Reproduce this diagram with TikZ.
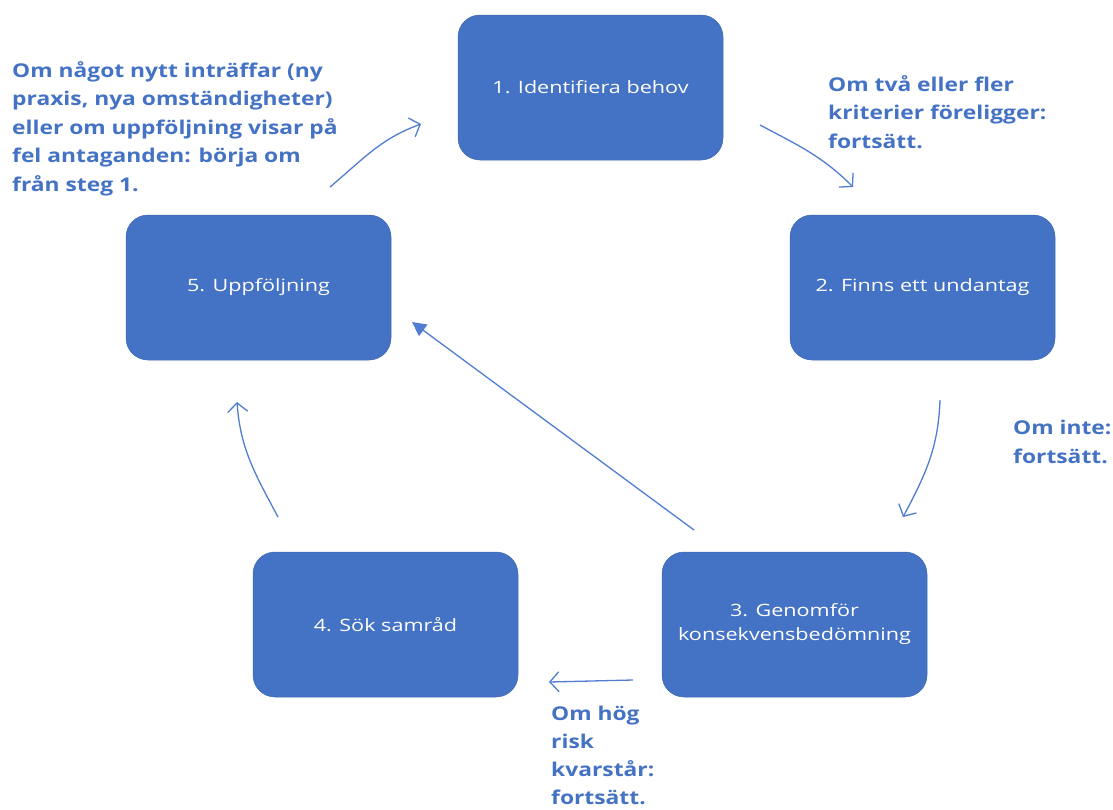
\documentclass[tikz,border=0pt]{standalone}
\usepackage{fontspec}
\setmainfont{Open Sans}
\newfontfamily\notefont{Open Sans}[FakeStretch=1.2]
\newfontfamily\phasefont{Open Sans}[FakeStretch=1.27]
\usepackage{xcolor}
\definecolor{office}{RGB}{68,114,196}
\definecolor{arrowblue}{RGB}{80,125,210}
\usepackage{tikz}
\usetikzlibrary{arrows.meta, positioning}

\begin{document}
\begin{tikzpicture}[
  x=1pt, y=-1pt,
  phase/.style = {rectangle, rounded corners=22pt, fill=office, draw=office!90!black,
                  line width=0.5pt, minimum width=265pt, minimum height=145pt,
                  text=white, align=center, font=\phasefont\fontsize{17}{24}\selectfont},
  note/.style  = {anchor=north west, align=left, text=office, inner sep=0pt,
                  font=\notefont\fontsize{19}{28.5}\selectfont\bfseries},
  arr/.style   = {-{Straight Barb[length=9pt, width=20pt]}, line width=1.3pt, arrowblue},
  back/.style  = {-{Triangle[length=14pt, width=14pt]}, line width=1.3pt, arrowblue},
]
\useasboundingbox (0,0) rectangle (1113,809);
\node[phase] (p1) at (590.5,87.5)  {1. Identifiera behov};
\node[phase] (p2) at (922.5,287.5) {2. Finns ett undantag};
\node[phase] (p3) at (794.5,624.5) {3. Genomför\\konsekvensbedömning};
\node[phase] (p4) at (385.5,624.5) {4. Sök samråd};
\node[phase] (p5) at (258.5,287.5) {5. Uppföljning};
\node[note] (n5) at (12,61)   {Om något nytt inträffar (ny\\praxis, nya omständigheter)\\eller om uppföljning visar på\\fel antaganden: börja om\\från steg 1.};
\node[note] (n1) at (828,75)  {Om två eller fler\\kriterier föreligger:\\fortsätt.};
\node[note] (n2) at (1013,420) {Om inte:\\fortsätt.};
\node[note, font=\notefont\fontsize{19}{28}\selectfont\bfseries] (n3) at (551,706) {Om hög\\risk\\kvarstår:\\fortsätt.};
\coordinate (a1s) at (760,125); \coordinate (a1e) at (853,187);
\coordinate (a2s) at (940,400); \coordinate (a2e) at (903,517);
\coordinate (a3s) at (633,680); \coordinate (a3e) at (549,682);
\coordinate (a4s) at (278,517); \coordinate (a4e) at (237,402);
\coordinate (a5s) at (330,187); \coordinate (a5e) at (421,124);
\coordinate (bs) at (694,530);  \coordinate (be) at (412,322);
\draw[arr] (a1s) to[out=-28, in=135] (a1e);
\draw[arr] (a2s) to[out=-92, in=62] (a2e);
\draw[arr] (a3s) -- (a3e);
\draw[arr] (a4s) to[out=118, in=-86] (a4e);
\draw[arr] (a5s) to[out=40, in=200] (a5e);
\draw[back] (bs) -- (be);
\end{tikzpicture}
\end{document}
